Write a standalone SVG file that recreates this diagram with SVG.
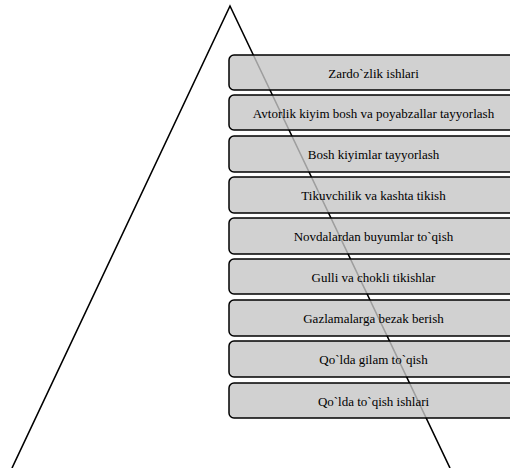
<svg xmlns="http://www.w3.org/2000/svg" width="510" height="468" viewBox="0 0 510 468">
<style>
.box{fill:#c6c6c6;fill-opacity:0.8;stroke:#000;stroke-width:1.5}
.lbl{font-family:"Liberation Serif","Times New Roman",serif;font-size:13px;fill:#000;text-anchor:middle}
.edge{stroke:#000;stroke-width:1.6;fill:none}
</style>
<rect width="510" height="468" fill="#fff"/>
<g id="connectors">
<path class="edge" d="M12,468 L230,6 L450,468"/>
</g>
<g id="n1"><rect class="box" x="229" y="55" width="290" height="35" rx="5"/><text class="lbl" x="373.5" y="78">Zardo`zlik ishlari</text></g>
<g id="n2"><rect class="box" x="229" y="95" width="290" height="35" rx="5"/><text class="lbl" x="373.5" y="118">Avtorlik kiyim bosh va poyabzallar tayyorlash</text></g>
<g id="n3"><rect class="box" x="229" y="136" width="290" height="36" rx="5"/><text class="lbl" x="373.5" y="159">Bosh kiyimlar tayyorlash</text></g>
<g id="n4"><rect class="box" x="229" y="177" width="290" height="36" rx="5"/><text class="lbl" x="373.5" y="200">Tikuvchilik va kashta tikish</text></g>
<g id="n5"><rect class="box" x="229" y="218" width="290" height="36" rx="5"/><text class="lbl" x="373.5" y="241">Novdalardan buyumlar to`qish</text></g>
<g id="n6"><rect class="box" x="229" y="259" width="290" height="35" rx="5"/><text class="lbl" x="373.5" y="282">Gulli va chokli tikishlar</text></g>
<g id="n7"><rect class="box" x="229" y="300" width="290" height="36" rx="5"/><text class="lbl" x="373.5" y="323">Gazlamalarga bezak berish</text></g>
<g id="n8"><rect class="box" x="229" y="341" width="290" height="36" rx="5"/><text class="lbl" x="373.5" y="364">Qo`lda gilam to`qish</text></g>
<g id="n9"><rect class="box" x="229" y="383" width="290" height="35" rx="5"/><text class="lbl" x="373.5" y="406">Qo`lda to`qish ishlari</text></g>
</svg>
